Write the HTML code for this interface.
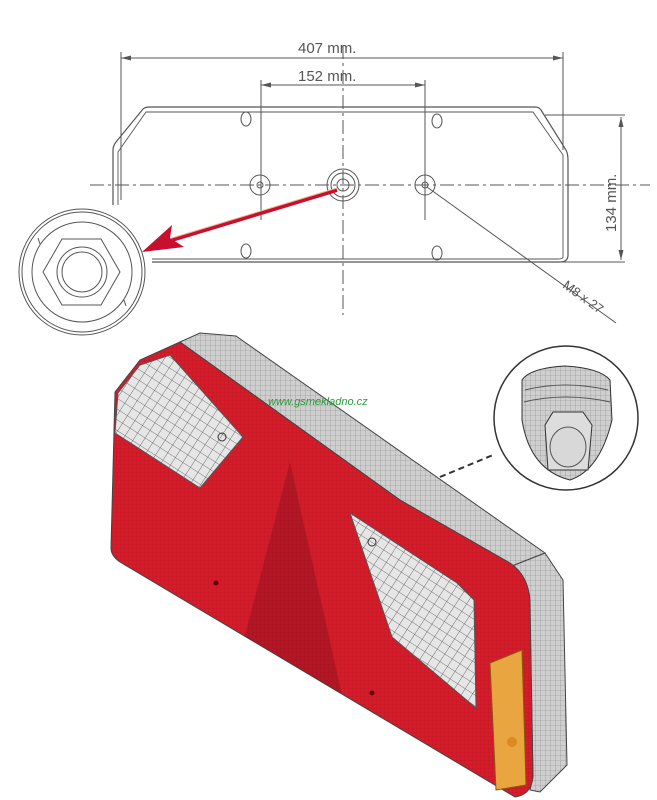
<!DOCTYPE html>
<html><head><meta charset="utf-8"><style>
html,body{margin:0;padding:0;background:#fff;}
svg{display:block;}
</style></head><body>
<svg width="657" height="800" viewBox="0 0 657 800" xmlns="http://www.w3.org/2000/svg" font-family="Liberation Sans, sans-serif">
<defs>
<pattern id="grid" width="9" height="9" patternUnits="userSpaceOnUse" patternTransform="rotate(33)">
<rect width="9" height="9" fill="#e6e6e6"/>
<path d="M0 0H9M0 0V9" stroke="#555" stroke-width="0.8"/>
</pattern>
<pattern id="red" width="4" height="4" patternUnits="userSpaceOnUse">
<rect width="4" height="4" fill="#d61c2a"/>
<path d="M0 0H4M0 0V4" stroke="#b81420" stroke-width="0.6"/>
</pattern>
<pattern id="gray" width="5" height="5" patternUnits="userSpaceOnUse">
<rect width="5" height="5" fill="#cfcfcf"/>
<path d="M0 0H5M0 0V5" stroke="#888" stroke-width="0.6"/>
</pattern>
<clipPath id="face">
<path d="M180 342 L400 500 L510 563 Q528 575 530 600 L533 777 Q531 795 515 797 L120 562 Q111 556 111 548 L115 392 L140 360 Z"/>
</clipPath>
</defs>

<g stroke="#555" fill="none" stroke-width="1">
<line x1="121" y1="58" x2="563" y2="58"/>
<line x1="121" y1="52" x2="121" y2="200"/>
<line x1="563" y1="52" x2="563" y2="150"/>
<line x1="261" y1="85" x2="425" y2="85"/>
<line x1="261" y1="80" x2="261" y2="220"/>
<line x1="425" y1="80" x2="425" y2="220"/>
<path d="M113 205 V150 Q113 146 116 142 L143 109 Q145 107 150 107 H535 Q539 107 541 110 L566 150 Q568 154 568 160 V255 Q568 262 560 262 H152" stroke-width="1.2"/>
<path d="M118 205 V152 L146 112 H533 L563 155 V257 Q563 259 558 259 H152" stroke-width="0.9"/>
<line x1="90" y1="185" x2="650" y2="185" stroke-dasharray="14,4,3,4"/>
<line x1="343" y1="45" x2="343" y2="315" stroke-dasharray="14,4,3,4"/>
<ellipse cx="246" cy="119" rx="5" ry="7"/>
<ellipse cx="437" cy="121" rx="5" ry="7"/>
<ellipse cx="246" cy="251" rx="5" ry="7"/>
<ellipse cx="437" cy="253" rx="5" ry="7"/>
<circle cx="260" cy="185" r="10"/><circle cx="260" cy="185" r="3"/>
<circle cx="343" cy="185" r="16"/><circle cx="343" cy="185" r="12"/><circle cx="343" cy="185" r="6"/>
<circle cx="425" cy="185" r="10"/><circle cx="425" cy="185" r="3"/>
<line x1="545" y1="115" x2="625" y2="115"/>
<line x1="560" y1="262" x2="625" y2="262"/>
<line x1="621" y1="117" x2="621" y2="260"/>
<line x1="427" y1="187" x2="616" y2="323"/>
<circle cx="82" cy="272" r="63"/>
<circle cx="82" cy="272" r="60"/>
<circle cx="82" cy="272" r="50"/>
<polygon points="43,272 62,239 101,239 120,272 101,305 62,305"/>
<circle cx="82" cy="272" r="25"/>
<circle cx="82" cy="272" r="20"/>
<line x1="38" y1="238" x2="40" y2="244"/>
<line x1="124" y1="300" x2="126" y2="306"/>
</g>
<g fill="#555">
<polygon points="121,58 131,55.5 131,60.5"/>
<polygon points="563,58 553,55.5 553,60.5"/>
<polygon points="261,85 271,82.5 271,87.5"/>
<polygon points="425,85 415,82.5 415,87.5"/>
<polygon points="621,117 618.5,127 623.5,127"/>
<polygon points="621,260 618.5,250 623.5,250"/>
</g>
<g fill="#555" font-size="15">
<text x="298" y="53">407  mm.</text>
<text x="298" y="81">152  mm.</text>
<text transform="translate(616,232) rotate(-90)">134  mm.</text>
<text transform="translate(562,287) rotate(36)" font-size="13">M8 x 27</text>
</g>
<line x1="337" y1="190" x2="172" y2="240" stroke="#c8102e" stroke-width="4"/>
<line x1="337" y1="188" x2="172" y2="238" stroke="#f2b08a" stroke-width="1"/>
<polygon points="142,252 172,225 170,238 184,247" fill="#c8102e"/>

<polygon points="180,342 200,333 236,336 545,553 512,566 400,500" fill="url(#gray)" stroke="#444" stroke-width="1"/>
<polygon points="512,566 545,553 563,580 567,765 540,792 530,790 533,777 530,620" fill="url(#gray)" stroke="#444" stroke-width="1"/>
<path d="M180 342 L400 500 L510 563 Q528 575 530 600 L533 777 Q531 795 515 797 L120 562 Q111 556 111 548 L115 392 L140 360 Z" fill="url(#red)" stroke="#444" stroke-width="1"/>
<g clip-path="url(#face)">
<polygon points="290,462 236,670 352,740" fill="#8a1020" opacity="0.45"/>
</g>
<polygon points="140,365 170,355 243,437 200,488 115,433 118,393" fill="url(#grid)" stroke="#555" stroke-width="1"/>
<circle cx="222" cy="437" r="4" fill="none" stroke="#333"/>
<polygon points="350,513 457,583 474,600 476,708 392,637" fill="url(#grid)" stroke="#555" stroke-width="1"/>
<circle cx="372" cy="542" r="4" fill="none" stroke="#333"/>
<polygon points="490,663 522,650 526,785 496,790" fill="#e8a540" stroke="#8a5a10" stroke-width="1"/>
<circle cx="512" cy="742" r="5" fill="#d98a20"/>
<circle cx="216" cy="583" r="2.5" fill="#600"/>
<circle cx="372" cy="693" r="2.5" fill="#600"/>
<line x1="440" y1="477" x2="493" y2="455" stroke="#333" stroke-width="2" stroke-dasharray="6,4"/>
<circle cx="566" cy="418" r="72" fill="#fff" stroke="#333" stroke-width="1.5"/>
<path d="M522 380 Q530 368 565 366 Q600 368 610 380 L612 420 Q600 470 570 480 Q530 470 522 420 Z" fill="url(#gray)" stroke="#333"/>
<path d="M525 390 Q565 380 608 390 M524 402 Q565 392 610 402" fill="none" stroke="#555"/>
<polygon points="545,425 553,412 583,412 592,425 588,470 548,470" fill="#ddd" stroke="#333"/>
<ellipse cx="568" cy="447" rx="18" ry="20" fill="#d8d8d8" stroke="#555"/>
<text x="268" y="405" font-size="11" font-style="italic" fill="#2a9a3a">www.gsmekladno.cz</text>
</svg>
</body></html>
